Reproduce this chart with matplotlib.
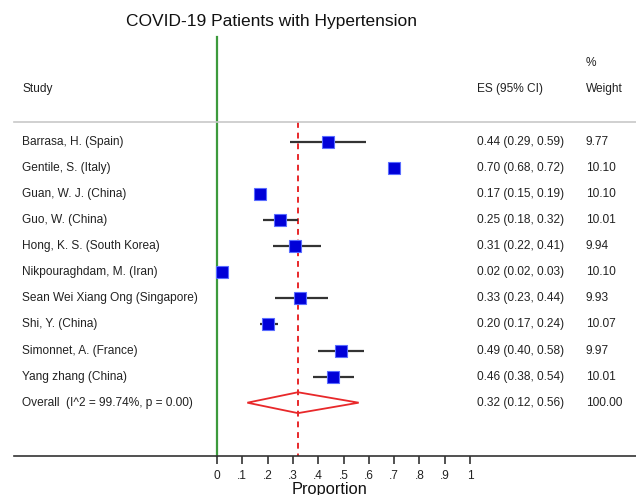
import matplotlib
matplotlib.use("Agg")
import matplotlib.pyplot as plt
import numpy as np

plt.rcParams['font.family'] = ['Liberation Sans', 'DejaVu Sans']

# datos del forest plot
studies = ["Barrasa, H. (Spain)", "Gentile, S. (Italy)", "Guan, W. J. (China)",
           "Guo, W. (China)", "Hong, K. S. (South Korea)", "Nikpouraghdam, M. (Iran)",
           "Sean Wei Xiang Ong (Singapore)", "Shi, Y. (China)", "Simonnet, A. (France)",
           "Yang zhang (China)"]
es = [0.44, 0.70, 0.17, 0.25, 0.31, 0.02, 0.33, 0.20, 0.49, 0.46]
lo = [0.29, 0.68, 0.15, 0.18, 0.22, 0.02, 0.23, 0.17, 0.40, 0.38]
hi = [0.59, 0.72, 0.19, 0.32, 0.41, 0.03, 0.44, 0.24, 0.58, 0.54]
weights = ["9.77", "10.10", "10.10", "10.01", "9.94", "10.10", "9.93", "10.07", "9.97", "10.01"]

overall_label = "Overall  (I^2 = 99.74%, p = 0.00)"
overall_es, overall_lo, overall_hi = 0.32, 0.12, 0.56
overall_weight = "100.00"

ticks = [0, .1, .2, .3, .4, .5, .6, .7, .8, .9, 1]
ticklabels = ["0", ".1", ".2", ".3", ".4", ".5", ".6", ".7", ".8", ".9", "1"]

fig = plt.figure(figsize=(6.36, 4.95), dpi=100)
ax = fig.add_axes([0, 0, 1, 1])

px = 253.0  # pixeles por unidad
x0 = 217.0
ax.set_xlim(-x0 / px, (636 - x0) / px)
step = 26.1
y0 = 141.7
ax.set_ylim((495 - y0) / step, (0 - y0) / step)

def xd(p):
    return (p - x0) / px

def yd(p):
    return (p - y0) / step

rows = np.arange(len(studies))
y_axis = yd(456)
y_head = yd(121.7)

# lineas de referencia
ax.plot([0, 0], [yd(36.7), y_axis], color='#3c9a3c', lw=1.6, zorder=1)
ax.plot([overall_es, overall_es], [y_head, y_axis], color='#e8282a', lw=1.4,
        linestyle=(0, (3, 2.5)), zorder=1)
ax.plot([xd(14), xd(636)], [y_head, y_head], color='#c8c8c8', lw=1.2)

# intervalos y estimaciones
ax.hlines(rows, lo, hi, color='#333333', lw=1.6, zorder=2)
ax.plot(es, rows, 's', ms=8, mfc='#0000d8', mec='#5a6cff', mew=0.8, zorder=3)

# diamante del efecto global
yo = len(studies)
ax.fill([overall_lo, overall_es, overall_hi, overall_es, overall_lo],
        [yo, yo - 0.4, yo, yo + 0.4, yo], facecolor='none', edgecolor='#e8282a', lw=1.3)

# textos
fs = 8.6
for i, s in enumerate(studies):
    ax.text(xd(22), i, s, fontsize=fs, va='center', ha='left', color='#222222')
    ax.text(xd(477), i, "%.2f (%.2f, %.2f)" % (es[i], lo[i], hi[i]), fontsize=fs,
            va='center', ha='left', color='#222222')
    ax.text(xd(586), i, weights[i], fontsize=fs, va='center', ha='left', color='#222222')
ax.text(xd(22), yo, overall_label, fontsize=fs, va='center', ha='left', color='#222222')
ax.text(xd(477), yo, "%.2f (%.2f, %.2f)" % (overall_es, overall_lo, overall_hi),
        fontsize=fs, va='center', ha='left', color='#222222')
ax.text(xd(586), yo, overall_weight, fontsize=fs, va='center', ha='left', color='#222222')

ax.text(xd(22), yd(89), "Study", fontsize=fs, va='center', ha='left', color='#222222')
ax.text(xd(477), yd(89), "ES (95% CI)", fontsize=fs, va='center', ha='left', color='#222222')
ax.text(xd(586), yd(89), "Weight", fontsize=fs, va='center', ha='left', color='#222222')
ax.text(xd(586), yd(63), "%", fontsize=fs, va='center', ha='left', color='#222222')

ax.text(xd(272), yd(21), "COVID-19 Patients with Hypertension", fontsize=12.5,
        va='center', ha='center', color='#111111')
ax.text(xd(330), yd(489), "Proportion", fontsize=11.8, va='center', ha='center',
        color='#111111')

# eje inferior
for side in ['top', 'left', 'right']:
    ax.spines[side].set_visible(False)
ax.spines['bottom'].set_position(('data', y_axis))
ax.spines['bottom'].set_bounds(xd(14), xd(636))
ax.spines['bottom'].set_color('#333333')
ax.spines['bottom'].set_linewidth(1.2)
ax.set_xticks(ticks)
ax.set_xticklabels(ticklabels)
ax.tick_params(axis='x', direction='out', length=6, width=1.2, color='#333333',
               labelsize=8.6, labelcolor='#222222', pad=4)
ax.set_yticks([])
ax.patch.set_alpha(0)

fig.savefig("out.png", dpi=100)
